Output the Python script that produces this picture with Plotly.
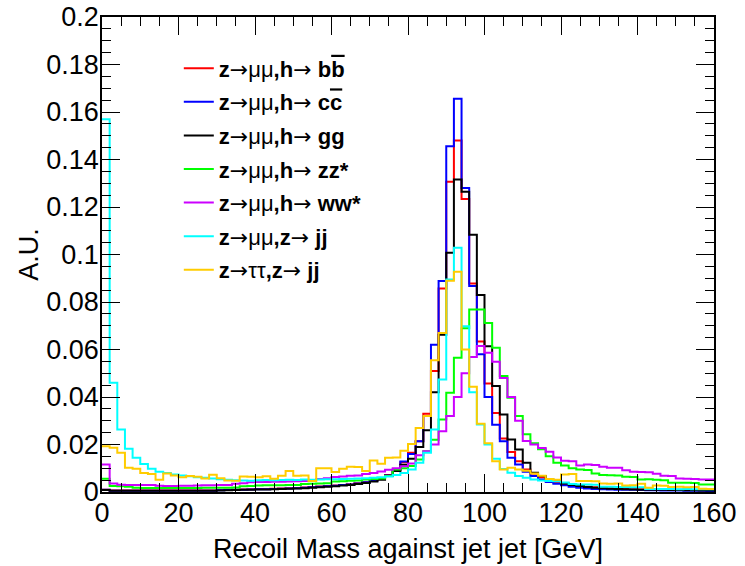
import plotly.graph_objects as go

# Binning: 80 bins of 2 GeV from 0 to 160
bin_edges = list(range(0, 162, 2))

h_bb = [0.0010, 0.0006, 0.0006, 0.0006, 0.0006, 0.0006, 0.0006, 0.0006, 0.0006, 0.0006,
        0.0006, 0.0006, 0.0006, 0.0006, 0.0006, 0.0008, 0.0009, 0.0010, 0.0011, 0.0012,
        0.0013, 0.0013, 0.0014, 0.0015, 0.0016, 0.0017, 0.0019, 0.0021, 0.0023, 0.0025,
        0.0027, 0.0030, 0.0033, 0.0037, 0.0042, 0.0048, 0.0058, 0.0072, 0.0093, 0.0125,
        0.0165, 0.0214, 0.0330, 0.0510, 0.0857, 0.1306, 0.1480, 0.1234, 0.0878, 0.0634,
        0.0457, 0.0333, 0.0225, 0.0168, 0.0130, 0.0095, 0.0078, 0.0062, 0.0050, 0.0040,
        0.0034, 0.0030, 0.0025, 0.0022, 0.0020, 0.0018, 0.0016, 0.0015, 0.0014, 0.0013,
        0.0012, 0.0011, 0.0010, 0.0010, 0.0009, 0.0009, 0.0008, 0.0008, 0.0007, 0.0007]

h_cc = [0.0009, 0.0005, 0.0005, 0.0005, 0.0005, 0.0005, 0.0005, 0.0005, 0.0005, 0.0005,
        0.0005, 0.0005, 0.0005, 0.0005, 0.0005, 0.0007, 0.0008, 0.0009, 0.0010, 0.0011,
        0.0012, 0.0012, 0.0013, 0.0014, 0.0015, 0.0016, 0.0018, 0.0020, 0.0022, 0.0024,
        0.0026, 0.0029, 0.0032, 0.0036, 0.0041, 0.0047, 0.0057, 0.0070, 0.0092, 0.0128,
        0.0160, 0.0214, 0.0320, 0.0620, 0.0888, 0.1456, 0.1656, 0.1280, 0.0867, 0.0580,
        0.0400, 0.0283, 0.0214, 0.0144, 0.0116, 0.0085, 0.0067, 0.0053, 0.0042, 0.0035,
        0.0028, 0.0022, 0.0018, 0.0015, 0.0013, 0.0012, 0.0011, 0.0010, 0.0009, 0.0009,
        0.0008, 0.0007, 0.0007, 0.0006, 0.0006, 0.0006, 0.0005, 0.0005, 0.0005, 0.0004]

h_gg = [0.0008, 0.0005, 0.0005, 0.0005, 0.0005, 0.0005, 0.0005, 0.0005, 0.0005, 0.0005,
        0.0005, 0.0005, 0.0005, 0.0005, 0.0005, 0.0006, 0.0007, 0.0008, 0.0009, 0.0010,
        0.0011, 0.0011, 0.0012, 0.0013, 0.0014, 0.0015, 0.0016, 0.0018, 0.0020, 0.0022,
        0.0024, 0.0027, 0.0030, 0.0034, 0.0038, 0.0044, 0.0052, 0.0068, 0.0088, 0.0115,
        0.0140, 0.0190, 0.0260, 0.0420, 0.0662, 0.1007, 0.1316, 0.1264, 0.1083, 0.0829,
        0.0614, 0.0446, 0.0326, 0.0221, 0.0179, 0.0123, 0.0081, 0.0067, 0.0053, 0.0046,
        0.0036, 0.0030, 0.0025, 0.0021, 0.0018, 0.0016, 0.0014, 0.0013, 0.0012, 0.0011,
        0.0010, 0.0010, 0.0009, 0.0009, 0.0008, 0.0008, 0.0007, 0.0007, 0.0006, 0.0006]

h_zz = [0.0056, 0.0025, 0.0024, 0.0022, 0.0018, 0.0017, 0.0017, 0.0017, 0.0017, 0.0017,
        0.0017, 0.0017, 0.0017, 0.0018, 0.0018, 0.0018, 0.0018, 0.0019, 0.0024, 0.0025,
        0.0027, 0.0028, 0.0028, 0.0028, 0.0029, 0.0029, 0.0034, 0.0035, 0.0036, 0.0037,
        0.0044, 0.0045, 0.0047, 0.0048, 0.0053, 0.0055, 0.0057, 0.0067, 0.0095, 0.0100,
        0.0109, 0.0137, 0.0172, 0.0220, 0.0305, 0.0418, 0.0565, 0.0690, 0.0768, 0.0768,
        0.0712, 0.0607, 0.0488, 0.0397, 0.0320, 0.0243, 0.0205, 0.0180, 0.0151, 0.0123,
        0.0112, 0.0100, 0.0095, 0.0093, 0.0078, 0.0072, 0.0071, 0.0070, 0.0064, 0.0063,
        0.0053, 0.0054, 0.0052, 0.0049, 0.0039, 0.0039, 0.0039, 0.0038, 0.0032, 0.0032]

h_ww = [0.0116, 0.0036, 0.0031, 0.0030, 0.0030, 0.0029, 0.0029, 0.0026, 0.0025, 0.0025,
        0.0026, 0.0026, 0.0027, 0.0028, 0.0028, 0.0029, 0.0030, 0.0035, 0.0037, 0.0041,
        0.0042, 0.0042, 0.0043, 0.0043, 0.0044, 0.0045, 0.0046, 0.0050, 0.0055, 0.0058,
        0.0063, 0.0065, 0.0068, 0.0070, 0.0076, 0.0080, 0.0086, 0.0094, 0.0100, 0.0108,
        0.0120, 0.0155, 0.0172, 0.0200, 0.0256, 0.0320, 0.0400, 0.0500, 0.0568, 0.0615,
        0.0586, 0.0548, 0.0480, 0.0400, 0.0300, 0.0215, 0.0200, 0.0185, 0.0170, 0.0145,
        0.0132, 0.0130, 0.0112, 0.0116, 0.0114, 0.0106, 0.0102, 0.0102, 0.0092, 0.0085,
        0.0084, 0.0083, 0.0077, 0.0068, 0.0067, 0.0057, 0.0056, 0.0055, 0.0053, 0.0053]

z_mumu_jj = [0.1570, 0.0460, 0.0263, 0.0182, 0.0144, 0.0118, 0.0098, 0.0085, 0.0080, 0.0074,
             0.0070, 0.0066, 0.0062, 0.0060, 0.0057, 0.0054, 0.0052, 0.0050, 0.0048, 0.0047,
             0.0050, 0.0051, 0.0050, 0.0051, 0.0052, 0.0051, 0.0053, 0.0052, 0.0053, 0.0054,
             0.0054, 0.0055, 0.0056, 0.0057, 0.0058, 0.0060, 0.0062, 0.0065, 0.0072, 0.0080,
             0.0095, 0.0123, 0.0165, 0.0263, 0.0474, 0.0895, 0.1028, 0.0698, 0.0420, 0.0284,
             0.0200, 0.0140, 0.0097, 0.0081, 0.0067, 0.0060, 0.0053, 0.0048, 0.0046, 0.0045,
             0.0040, 0.0034, 0.0032, 0.0032, 0.0031, 0.0022, 0.0022, 0.0021, 0.0021, 0.0020,
             0.0020, 0.0013, 0.0013, 0.0013, 0.0013, 0.0012, 0.0013, 0.0012, 0.0012, 0.0012]

z_tautau_jj = [0.0193, 0.0186, 0.0165, 0.0102, 0.0098, 0.0080, 0.0076, 0.0052, 0.0078, 0.0070,
               0.0062, 0.0067, 0.0064, 0.0057, 0.0073, 0.0058, 0.0048, 0.0047, 0.0065, 0.0064,
               0.0062, 0.0066, 0.0056, 0.0068, 0.0088, 0.0068, 0.0070, 0.0046, 0.0100, 0.0100,
               0.0084, 0.0098, 0.0106, 0.0105, 0.0088, 0.0133, 0.0119, 0.0144, 0.0145, 0.0174,
               0.0202, 0.0270, 0.0320, 0.0555, 0.0670, 0.0890, 0.0927, 0.0600, 0.0443, 0.0287,
               0.0205, 0.0130, 0.0095, 0.0102, 0.0095, 0.0090, 0.0078, 0.0068, 0.0055, 0.0052,
               0.0074, 0.0076, 0.0046, 0.0046, 0.0045, 0.0036, 0.0035, 0.0036, 0.0027, 0.0028,
               0.0035, 0.0018, 0.0027, 0.0026, 0.0021, 0.0022, 0.0020, 0.0021, 0.0014, 0.0013]

ARW = "<span style='font-family:DejaVu Sans'>→</span>"
OVL = "<span style='text-decoration:overline'>{}</span>"
labels = [
    f"<b>z</b>{ARW}μμ<b>,h</b>{ARW} <b>b{OVL.format('b')}</b>",
    f"<b>z</b>{ARW}μμ<b>,h</b>{ARW} <b>c{OVL.format('c')}</b>",
    f"<b>z</b>{ARW}μμ<b>,h</b>{ARW} <b>gg</b>",
    f"<b>z</b>{ARW}μμ<b>,h</b>{ARW} <b>zz*</b>",
    f"<b>z</b>{ARW}μμ<b>,h</b>{ARW} <b>ww*</b>",
    f"<b>z</b>{ARW}μμ<b>,z</b>{ARW} <b>jj</b>",
    f"<b>z</b>{ARW}ττ<b>,z</b>{ARW} <b>jj</b>",
]
series = [h_bb, h_cc, h_gg, h_zz, h_ww, z_mumu_jj, z_tautau_jj]
colors = ["#ff0000", "#0000ff", "#000000", "#00ff00", "#cc00ff", "#00ffff", "#ffcc00"]

y_tickvals = [0, 0.02, 0.04, 0.06, 0.08, 0.1, 0.12, 0.14, 0.16, 0.18, 0.2]
y_ticktext = ["0", "0.02", "0.04", "0.06", "0.08", "0.1", "0.12", "0.14", "0.16", "0.18", "0.2"]
x_tickvals = [0, 20, 40, 60, 80, 100, 120, 140, 160]
x_ticktext = ["0", "20", "40", "60", "80", "100", "120", "140", "160"]

fig = go.Figure()
for i, (vals, name, col) in enumerate(zip(series, labels, colors)):
    fig.add_trace(go.Scatter(
        x=bin_edges,
        y=list(vals) + [vals[-1]],
        mode="lines",
        line=dict(color=col, width=2, shape="hv"),
        name=name,
        legendgroup=f"g{i}",
    ))

font_family = "Liberation Sans, Arial, Helvetica, sans-serif"
fig.update_layout(
    width=745, height=566,
    margin=dict(l=102, r=31, t=17, b=74),
    paper_bgcolor="white", plot_bgcolor="white",
    font=dict(family=font_family, color="black", size=27),
    showlegend=True,
    legend=dict(
        x=0.1255, y=0.936, xanchor="left", yanchor="top",
        bgcolor="rgba(0,0,0,0)", borderwidth=0,
        font=dict(family=font_family, size=22, color="black"),
        tracegroupgap=2,
    ),
    xaxis=dict(
        range=[0, 160], showgrid=False, zeroline=False,
        showline=True, linecolor="black", linewidth=1.5, mirror="ticks",
        ticks="inside", ticklen=18, tickwidth=1.2, tickcolor="black",
        tickvals=x_tickvals, ticktext=x_ticktext,
        minor=dict(ticks="inside", ticklen=9, dtick=5, tickwidth=1.2, tickcolor="black"),
        tickfont=dict(size=27), ticklabelstandoff=-4,
        title=dict(text="Recoil Mass against jet jet [GeV]", font=dict(size=27), standoff=12),
        automargin=False,
    ),
    yaxis=dict(
        range=[0, 0.2], showgrid=False, zeroline=False,
        showline=True, linecolor="black", linewidth=1.5, mirror="ticks",
        ticks="inside", ticklen=18, tickwidth=1.2, tickcolor="black",
        tickvals=y_tickvals, ticktext=y_ticktext,
        minor=dict(ticks="inside", ticklen=9, dtick=0.005, tickwidth=1.2, tickcolor="black"),
        tickfont=dict(size=27), ticklabelstandoff=-4,
        title=dict(text="A.U.", font=dict(size=27), standoff=0),
        automargin=False,
    ),
)

fig.write_html("out.html", config={"displayModeBar": False},
               post_script="document.body.style.margin='0';")
